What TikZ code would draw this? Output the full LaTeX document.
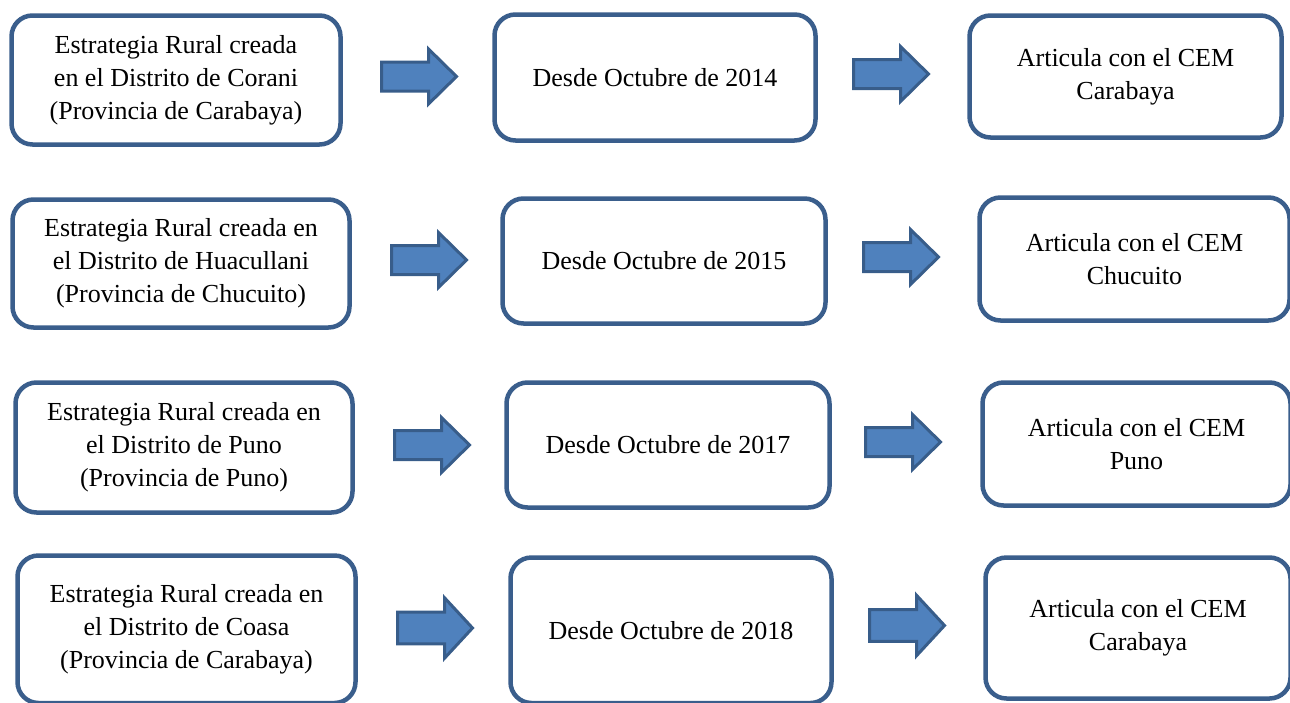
\documentclass[tikz,border=0pt]{standalone}
\usepackage{fontspec}
\setmainfont{Liberation Serif}
\definecolor{boxline}{HTML}{3A5E8C}
\definecolor{arrfill}{HTML}{4F81BD}
\definecolor{arrline}{HTML}{385D8A}
\begin{document}
\begin{tikzpicture}[x=1pt,y=-1pt,
  box/.style={draw=boxline, line width=4.5pt, rounded corners=21pt, fill=white,
    inner sep=0pt, align=center, font=\fontsize{26}{33}\selectfont},
  blockarr/.pic={
    \draw[fill=arrfill, draw=arrline, line width=3pt, line join=miter]
      (0,-14.5) -- (47,-14.5) -- (47,-27.5) -- (75,0) -- (47,27.5) -- (47,14.5) -- (0,14.5) -- cycle;
  }]
\useasboundingbox (0,0) rectangle (1290,702);
% row 1
\node[box, minimum width=329pt, minimum height=129pt] (a1) at (176,80)
  {Estrategia Rural creada\\en el Distrito de Corani\\(Provincia de Carabaya)};
\node[box, minimum width=321pt, minimum height=126pt] (b1) at (655,77.5)
  {Desde Octubre de 2014};
\node[box, minimum width=312pt, minimum height=122pt] (c1) at (1125.5,76.5)
  {Articula con el CEM\\Carabaya};
\pic at (381.5,76.5) {blockarr};
\pic at (853.5,74) {blockarr};
% row 2
\node[box, minimum width=337pt, minimum height=128pt] (a2) at (181,263.5)
  {Estrategia Rural creada en\\el Distrito de Huacullani\\(Provincia de Chucuito)};
\node[box, minimum width=323pt, minimum height=125pt] (b2) at (664,261)
  {Desde Octubre de 2015};
\node[box, minimum width=310pt, minimum height=123pt] (c2) at (1134.5,259)
  {Articula con el CEM\\Chucuito};
\pic at (391.5,260) {blockarr};
\pic at (863.5,257) {blockarr};
% row 3
\node[box, minimum width=337pt, minimum height=130pt] (a3) at (184,447.5)
  {Estrategia Rural creada en\\el Distrito de Puno\\(Provincia de Puno)};
\node[box, minimum width=323pt, minimum height=125pt] (b3) at (668,445)
  {Desde Octubre de 2017};
\node[box, minimum width=308pt, minimum height=123pt] (c3) at (1136.5,444)
  {Articula con el CEM\\Puno};
\pic at (394.5,445) {blockarr};
\pic at (865.5,442) {blockarr};
% row 4
\node[box, minimum width=338pt, minimum height=147.5pt] (a4) at (186.5,629.25)
  {Estrategia Rural creada en\\el Distrito de Coasa\\(Provincia de Carabaya)};
\node[box, minimum width=321pt, minimum height=145.5pt] (b4) at (671,630.25)
  {Desde Octubre de 2018};
\node[box, minimum width=305pt, minimum height=141pt] (c4) at (1138,628)
  {Articula con el CEM\\Carabaya};
\pic[yscale=1.1] at (397.5,628) {blockarr};
\pic[yscale=1.1] at (869.5,625.5) {blockarr};
\end{tikzpicture}
\end{document}
